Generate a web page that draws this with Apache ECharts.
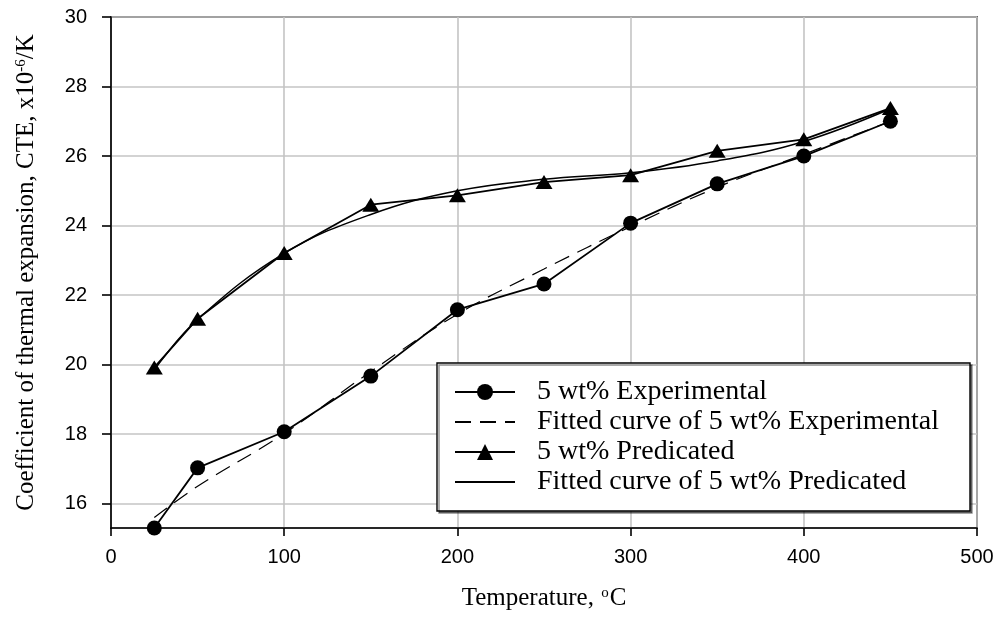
<!DOCTYPE html>
<html><head><meta charset="utf-8">
<script src="https://cdn.jsdelivr.net/npm/echarts@6/dist/echarts.min.js"></script>
<style>html,body{margin:0;padding:0;background:#fff}#c{width:999px;height:619px}</style>
</head><body><div id="c"></div>
<script>
const temps = [25, 50, 100, 150, 200, 250, 300, 350, 400, 450];
const expValues = [15.3, 17.03, 18.07, 19.67, 21.58, 22.32, 24.07, 25.2, 26.0, 27.0];
const expFit = [15.6, 16.5, 18.02, 19.8, 21.45, 22.75, 23.97, 25.1, 26.05, 27.0];
const predValues = [19.92, 21.32, 23.21, 24.6, 24.87, 25.25, 25.45, 26.15, 26.48, 27.38];
const predFit = [19.85, 21.3, 23.2, 24.32, 25.0, 25.33, 25.52, 25.86, 26.42, 27.36];
const xTicks = [0, 100, 200, 300, 400, 500];
const yTicks = [16, 18, 20, 22, 24, 26, 28, 30];
const names = ['5 wt% Experimental', 'Fitted curve of 5 wt% Experimental', '5 wt% Predicated', 'Fitted curve of 5 wt% Predicated'];

const pair = (xs, ys) => xs.map((x, i) => [x, ys[i]]);
const chart = echarts.init(document.getElementById('c'), null, {renderer: 'canvas'});
const tickFont = {fontFamily: 'Liberation Sans, Arial, sans-serif', fontSize: 20, color: '#000'};
const serif = 'Liberation Serif, Times New Roman, serif';
chart.setOption({
  animation: false,
  backgroundColor: '#fff',
  grid: {left: 111, right: 22, top: 17, bottom: 91, show: true, borderColor: '#000', borderWidth: 1.6, backgroundColor: 'transparent'},
  xAxis: {
    type: 'value', min: 0, max: 500, interval: 100,
    name: 'Temperature, {sup|o}C', nameLocation: 'middle', nameGap: 58,
    nameTextStyle: {fontFamily: serif, fontSize: 25, color: '#000',
      rich: {sup: {fontSize: 15, verticalAlign: 'top', padding: [0, 1, 10, 1], fontFamily: serif}}},
    axisLine: {show: true, onZero: false, lineStyle: {color: '#000', width: 1.6}},
    axisTick: {show: true, inside: false, length: 8, lineStyle: {color: '#000', width: 1.6}},
    axisLabel: Object.assign({margin: 19, formatter: v => xTicks.includes(v) ? String(v) : ''}, tickFont),
    splitLine: {show: true, lineStyle: {color: '#c4c4c4', width: 1.6}}
  },
  yAxis: {
    type: 'value', min: 15.3, max: 30, splitNumber: 7,
    name: 'Coefficient of thermal expansion, CTE, x10{sup|-6}/K', nameLocation: 'middle', nameGap: 72, nameRotate: 90,
    nameTextStyle: {fontFamily: serif, fontSize: 25, color: '#000',
      rich: {sup: {fontSize: 15, verticalAlign: 'top', padding: [0, 0, 10, 0], fontFamily: serif}}},
    axisLine: {show: true, onZero: false, lineStyle: {color: '#000', width: 1.6}},
    axisTick: {show: true, inside: false, length: 9, lineStyle: {color: '#000', width: 1.6}},
    axisLabel: Object.assign({margin: 24, showMinLabel: false, formatter: v => yTicks.includes(Math.round(v * 100) / 100) ? String(v) : ''}, tickFont),
    splitLine: {show: true, lineStyle: {color: '#c4c4c4', width: 1.6}}
  },
  legend: {
    orient: 'vertical', left: 437, top: 363,
    data: [
      {name: names[0]},
      {name: names[1], itemStyle: {opacity: 0}},
      {name: names[2]},
      {name: names[3], itemStyle: {opacity: 0}}
    ],
    itemWidth: 60, itemHeight: 20, itemGap: 2,
    padding: [15, 31, 15, 17],
    backgroundColor: '#fff', borderColor: '#000', borderWidth: 1.4,
    shadowColor: 'rgba(0,0,0,0.45)', shadowOffsetX: 2, shadowOffsetY: 2, shadowBlur: 0,
    textStyle: {fontFamily: serif, fontSize: 28, lineHeight: 28, color: '#000', padding: [0, 0, 0, 17]}
  },
  series: [
    {name: names[0], type: 'line', data: pair(temps, expValues), symbol: 'circle', symbolSize: 15,
     itemStyle: {color: '#000'}, lineStyle: {color: '#000', width: 1.8}, z: 4},
    {name: names[1], type: 'line', data: pair(temps, expFit), smooth: 0.4, symbol: 'none',
     lineStyle: {color: '#000', width: 1.2, type: [16, 9]}, itemStyle: {color: '#000'}, z: 3},
    {name: names[2], type: 'line', data: pair(temps, predValues), symbol: 'triangle', symbolSize: [17, 14],
     itemStyle: {color: '#000'}, lineStyle: {color: '#000', width: 1.8}, z: 4},
    {name: names[3], type: 'line', data: pair(temps, predFit), smooth: 0.4, symbol: 'none',
     lineStyle: {color: '#000', width: 1.5}, itemStyle: {color: '#000'}, z: 3}
  ]
});
</script></body></html>
